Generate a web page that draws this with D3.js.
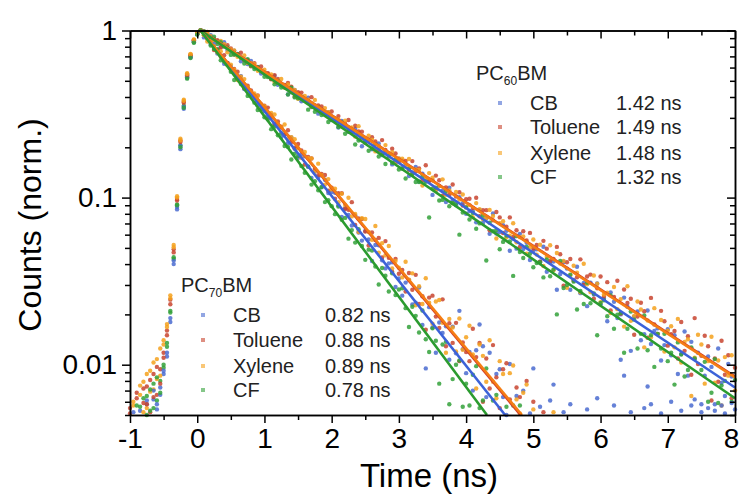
<!DOCTYPE html>
<html><head><meta charset="utf-8">
<script src="https://cdn.jsdelivr.net/npm/d3@7"></script>
<style>body{margin:0;background:#fff;} text{font-family:"Liberation Sans",Arial,sans-serif;}</style>
</head><body><svg id="c" width="742" height="496"></svg>
<script>
// ---- data ----
const channelStart = -1, channelWidth = 0.05; // ns, TCSPC channel grid (181 channels)
const xTickValues = [-1, 0, 1, 2, 3, 4, 5, 6, 7, 8];
const yTickValues = [0.01, 0.1, 1];
const yTickLabels = ["0.01", "0.1", "1"];
const solvents = ["CB", "Toluene", "Xylene", "CF"];
const dotColors = ["#4a6bd0", "#c8442f", "#f5a11c", "#33a13a"];
const lineColors = ["#3c62d8", "#d23b28", "#f57d14", "#2b9b2f"];
const lifetimes60 = ["1.42 ns", "1.49 ns", "1.48 ns", "1.32 ns"];
const lifetimes70 = ["0.82 ns", "0.88 ns", "0.89 ns", "0.78 ns"];

// raw counts per channel
const pc70_CB = [38,52,31,47,44,61,49,70,58,66,92,118,190,420,880,2050,3500,5300,6900,8600,9500,
10000,9095,9116,8298,8282,7275,7076,6317,6393,6121,5545,5133,5335,4465,4496,4101,4094,3580,3539,3300,
3035,3132,2769,2739,2299,2381,2121,2293,1963,1730,1821,1768,1528,1309,1435,1325,1153,1280,1066,1081,
1069,899,766,863,787,681,783,618,553,631,562,417,520,519,422,377,404,410,292,328,
259,310,321,229,235,290,173,95,221,167,118,179,155,170,107,169,117,210,124,89,
119,70,122,174,129,64,118,41,88,94,64,50,101,34,65,46,70,34,51,95,
42,56,38,47,61,76,44,33,52,40,58,36,45,49,31,54,41,37,63,44,39,48,35,57,42,107,86,40,52,38,46,34,55,74,58,43,39,51,36,47,60,41,33,53,45,38,57,62,44,52,36,55,48,53,40,57,51,35,59,46];
const pc70_Toluene = [55,41,63,36,72,58,81,64,97,77,110,150,230,470,960,2150,3700,5400,7100,8700,9600,
10000,9827,8919,8689,7642,7660,6987,7116,6404,5857,5884,5667,5069,4517,4671,4371,3962,4085,3614,3550,
3455,3060,2738,2857,2652,2389,2530,2155,1975,2094,1914,1575,1753,1714,1483,1362,1385,1365,1100,1147,
985,1062,1061,855,846,939,685,751,744,626,517,618,557,574,438,549,436,360,430,350,
369,274,354,281,345,231,257,162,252,259,194,166,246,129,177,135,178,105,136,119,
105,164,111,135,60,109,72,131,84,55,94,102,62,27,73,64,41,80,46,60,
44,36,52,33,40,29,47,31,38,27,42,35,30,45,28,33,39,26,41,30,35,28,43,32,37,25,40,29,34,46,31,27,38,30,36,24,41,33,29,35,30,38,26,42,31,28,36,33,27,39,32,25,37,30,34,28,40,31,26,35];
const pc70_Xylene = [47,60,39,75,52,88,69,103,82,125,140,175,260,520,1000,2200,3800,5500,7200,8800,9650,
10000,9378,8579,8627,8067,7407,7526,6694,6238,6250,5822,5058,5296,5119,4581,4269,4198,4063,3533,3519,
3160,3216,3144,2717,2635,2736,2235,2297,2236,1972,1728,1874,1722,1717,1433,1596,1363,1196,1290,1121,
1131,937,1054,902,997,772,798,622,752,745,622,559,676,468,534,452,513,377,418,381,
333,413,323,352,227,295,231,329,235,176,239,244,178,118,188,167,120,189,123,146,
171,115,72,132,113,79,140,79,63,105,88,28,89,99,62,51,68,76,33,54,
38,49,33,45,29,52,36,31,43,27,37,34,46,28,33,39,25,41,30,36,28,35,31,42,27,33,38,26,30,36,44,29,32,25,37,31,28,34,40,27,33,29,36,24,31,38,27,34,30,26,35,29,41,32,28,36,25,33,30,37];
const pc70_CF = [34,45,57,40,63,50,71,55,84,68,100,135,210,440,900,2000,3450,5150,6850,8450,9450,
10000,9541,9154,8132,7760,7735,6630,6543,6242,5661,5057,5179,4778,4644,4062,4163,3701,3346,3372,3027,
2941,2568,2659,2363,2427,2036,2011,1689,1832,1772,1543,1406,1537,1196,1254,1105,1156,940,965,889,
796,884,736,756,568,639,538,647,513,424,488,482,387,302,379,341,274,352,261,282,
287,218,168,222,196,156,211,142,119,165,139,77,132,137,58,82,100,106,56,77,
57,87,98,55,61,95,36,61,66,45,21,56,46,57,27,57,35,22,41,26,
22,28,19,25,31,21,26,18,24,29,20,23,27,17,22,25,19,28,21,24,20,26,18,23,30,21,19,25,22,27,18,24,20,26,23,19,28,21,25,22,19,24,27,20,23,18,26,22,25,21,19,28,23,20,24,22,26,18,23,21];
const pc60_CB = [29,44,36,53,41,58,47,62,54,73,88,112,180,400,850,1950,3400,5200,6950,8550,9550,
10000,9753,9117,9386,8702,8668,7980,8510,7641,7522,7578,7240,6543,6705,6306,6566,6019,6048,5520,5601,
5512,5135,5343,4729,4794,4703,4148,4282,4403,4187,3775,3828,3964,3484,3545,3179,3397,3166,3242,2916,
2915,2625,2874,2699,2476,2455,2580,2424,2027,2230,2232,1948,1944,2107,1795,1841,1823,1580,1632,1707,
1502,1592,1346,1412,1523,1246,1392,1266,1273,1038,1110,1176,1101,942,1147,965,901,1004,927,801,
832,830,711,843,705,748,607,804,610,623,684,633,481,568,495,607,492,536,423,480,
490,413,508,360,410,414,281,349,412,376,281,321,386,268,309,224,310,263,306,230,
248,182,271,238,190,200,252,222,121,194,208,140,152,211,133,159,165,106,131,163,
114,150,88,116,158,86,137,108,118,58,86,112,97,58,125,78,65,101,85,54];
const pc60_Toluene = [51,35,68,46,59,74,52,88,66,94,118,160,245,490,980,2200,3750,5450,7150,8750,9620,
10000,9591,9819,8900,8932,8748,7914,8048,8167,7813,7183,7211,7356,6631,6674,6114,6383,6015,6084,5583,
5543,5102,5410,5131,4784,4720,4859,4610,4021,4276,4249,3822,3787,3991,3525,3563,3513,3144,3194,3277,
2966,3074,2700,2774,2914,2498,2690,2490,2482,2127,2214,2295,2169,1924,2209,1930,1822,1960,1835,1638,
1671,1659,1467,1654,1439,1495,1271,1562,1258,1269,1354,1269,1028,1152,1036,1199,1015,1076,897,979,
985,866,998,774,842,841,637,731,820,761,614,670,761,581,638,506,629,554,615,496,
520,414,551,495,417,430,507,458,297,410,429,318,334,427,300,337,346,248,287,337,
256,312,211,254,318,202,282,234,248,151,194,235,209,145,251,174,153,210,182,130,
152,159,109,180,121,148,87,190,101,113,149,129,61,109,79,139,87,114,63,96];
const pc60_Xylene = [43,57,48,66,79,55,92,71,108,86,132,168,250,505,1020,2250,3850,5550,7250,8850,9680,
10000,9354,9697,9245,8704,8549,8670,8267,7409,7692,7597,6962,6860,7081,6399,6400,6284,5737,5759,5825,
5361,5457,4923,4977,5121,4536,4748,4447,4401,3903,3981,4052,3855,3504,3844,3452,3282,3433,3243,2962,
2977,2935,2662,2883,2580,2630,2320,2677,2262,2256,2348,2218,1890,2034,1866,2061,1806,1871,1624,1716,
1711,1540,1703,1395,1473,1462,1182,1296,1402,1314,1112,1175,1286,1040,1105,924,1080,973,1044,881,
904,764,927,851,745,755,844,776,569,702,722,578,592,702,540,580,585,461,504,561,
456,522,390,442,519,368,466,403,417,289,342,391,355,271,402,303,272,342,305,237,
263,270,204,292,215,247,169,295,183,196,239,214,127,184,146,218,152,185,120,160,
170,127,188,103,137,142,65,110,151,132,77,105,147,78,106,57,111,86,114,70];
const pc60_CF = [37,49,42,56,48,65,53,77,61,80,96,128,205,430,910,2050,3550,5250,6950,8500,9500,
10000,9890,9072,9060,9172,8296,8506,8023,7887,7145,7182,7210,6881,6348,6743,6160,5877,6023,5716,5291,
5263,5159,4760,4994,4558,4577,4137,4548,3979,3934,4010,3810,3359,3505,3259,3472,3121,3170,2833,2918,
2884,2645,2821,2410,2485,2447,2078,2197,2306,2177,1908,1966,2083,1763,1825,1588,1760,1615,1685,1473,
1487,1300,1488,1380,1240,1239,1337,1243,760,1132,1145,961,969,1091,887,928,925,600,813,872,
740,808,651,701,782,420,707,629,640,491,543,592,547,340,588,473,435,507,461,383,
406,410,333,426,338,371,200,418,288,300,346,314,214,276,231,309,233,267,150,234,
243,195,260,164,199,204,118,164,208,186,125,153,197,122,150,97,153,125,153,105,
118,76,136,115,85,93,127,109,45,93,104,60,68,108,59,75,80,43,60,81];

// mono-exponential fits: [time, norm. counts] end points
const fit70_CB = [[0.05, 1], [4.58, 0.005]];
const fit70_Toluene = [[0.05, 1], [4.81, 0.005]];
const fit70_Xylene = [[0.05, 1], [4.83, 0.005]];
const fit70_CF = [[0.05, 1], [4.31, 0.005]];
const fit60_CB = [[0.05, 1], [8, 0.0073]];
const fit60_Toluene = [[0.05, 1], [8, 0.0085]];
const fit60_Xylene = [[0.05, 1], [8, 0.0084]];
const fit60_CF = [[0.05, 1], [8, 0.0063]];

// ---- chart ----
const svg = d3.select("#c");
const L = 130, R = 735, T = 30.5, B = 415;
const x = d3.scaleLinear().domain([-1, 8]).range([L, R]);
const y = d3.scaleLog().domain([0.005, 1]).range([B, T]);

const series70 = [pc70_CB, pc70_Toluene, pc70_Xylene, pc70_CF];
const series60 = [pc60_CB, pc60_Toluene, pc60_Xylene, pc60_CF];
const fits70 = [fit70_CB, fit70_Toluene, fit70_Xylene, fit70_CF];
const fits60 = [fit60_CB, fit60_Toluene, fit60_Xylene, fit60_CF];

function toPoints(counts) {
  const peak = d3.max(counts);
  return counts.map((c, i) => ({t: channelStart + i * channelWidth, v: c / peak}))
    .filter(d => d.v >= 0.005 && d.v <= 1.0001 && d.t >= -1 && d.t <= 8);
}

const gData = svg.append("g");
[series60, series70].forEach(group => {
  group.forEach((counts, k) => {
    gData.append("g").selectAll("circle").data(toPoints(counts)).join("circle")
      .attr("cx", d => x(d.t)).attr("cy", d => y(d.v)).attr("r", 2.2)
      .attr("fill", dotColors[k]).attr("fill-opacity", 0.85);
  });
});

const line = d3.line().x(d => x(d[0])).y(d => y(d[1]));
const lineOrder = [1, 0, 2, 3];
[fits60, fits70].forEach(group => {
  lineOrder.forEach(k => {
    svg.append("path").attr("d", line(group[k])).attr("fill", "none")
      .attr("stroke", lineColors[k]).attr("stroke-width", 2.6);
  });
});

// axes
const fs = 28;
const minorY = [];
[0.001, 0.01, 0.1].forEach(d => { for (let m = 2; m <= 9; m++) { const v = d * m; if (v >= 0.005 && v < 1) minorY.push(v); } });
const minorX = d3.range(-0.5, 8, 1);

function styleAxis(g) {
  g.selectAll("path,line").attr("stroke", "#000").attr("stroke-width", 1.5);
  g.selectAll("text").attr("font-size", fs).attr("fill", "#000")
    .attr("font-family", '"Liberation Sans", Arial, sans-serif');
}
svg.append("g").attr("transform", `translate(${L},0)`)
  .call(d3.axisLeft(y).tickValues(yTickValues).tickFormat((d, i) => yTickLabels[i]).tickSize(8).tickPadding(5).tickSizeOuter(0)).call(styleAxis);
svg.append("g").attr("transform", `translate(${L},0)`)
  .call(d3.axisLeft(y).tickValues(minorY).tickFormat("").tickSize(5).tickSizeOuter(0)).call(styleAxis);
svg.append("g").attr("transform", `translate(${R},0)`)
  .call(d3.axisRight(y).tickValues(yTickValues).tickFormat("").tickSize(-8).tickSizeOuter(0)).call(styleAxis);
svg.append("g").attr("transform", `translate(${R},0)`)
  .call(d3.axisRight(y).tickValues(minorY).tickFormat("").tickSize(-5).tickSizeOuter(0)).call(styleAxis);
const xAx = svg.append("g").attr("transform", `translate(0,${B})`)
  .call(d3.axisBottom(x).tickValues(xTickValues).tickFormat(d => String(d)).tickSize(8).tickPadding(5).tickSizeOuter(0)).call(styleAxis);
xAx.selectAll(".tick text").filter(d => d === 8).attr("dx", -4);
svg.append("g").attr("transform", `translate(0,${B})`)
  .call(d3.axisBottom(x).tickValues(minorX).tickFormat("").tickSize(5).tickSizeOuter(0)).call(styleAxis);
svg.append("g").attr("transform", `translate(0,${T})`)
  .call(d3.axisTop(x).tickValues(xTickValues).tickFormat("").tickSize(-8).tickSizeOuter(0)).call(styleAxis);
svg.append("g").attr("transform", `translate(0,${T})`)
  .call(d3.axisTop(x).tickValues(minorX).tickFormat("").tickSize(-5).tickSizeOuter(0)).call(styleAxis);

// titles
svg.append("text").attr("transform", "translate(41,225) rotate(-90)").attr("text-anchor", "middle")
  .attr("font-size", 32).text("Counts (norm.)");
svg.append("text").attr("x", 429).attr("y", 487).attr("text-anchor", "middle")
  .attr("font-size", 33).text("Time (ns)");

// legends
function legend(x0, y0, sub, lifetimes, markX, labX, valX, rowY) {
  const g = svg.append("g");
  const tt = g.append("text").attr("x", x0).attr("y", y0).attr("font-size", 20).attr("fill", "#222");
  tt.append("tspan").text("PC");
  tt.append("tspan").attr("font-size", 12).attr("dy", 5).text(sub);
  tt.append("tspan").attr("dy", -5).text("BM");
  solvents.forEach((s, k) => {
    const yy = rowY[k];
    g.append("rect").attr("x", markX - 2).attr("y", yy - 9).attr("width", 4).attr("height", 4)
      .attr("fill", dotColors[k]).attr("fill-opacity", 0.6);
    g.append("text").attr("x", labX).attr("y", yy).attr("font-size", 20).attr("fill", "#222").text(s);
    g.append("text").attr("x", valX).attr("y", yy).attr("font-size", 20).attr("fill", "#222").text(lifetimes[k]);
  });
}
legend(476, 80, "60", lifetimes60, 500, 530, 616, [110, 134, 160, 184]);
legend(181, 292, "70", lifetimes70, 203, 233, 325, [322, 347, 373, 397]);
</script></body></html>
